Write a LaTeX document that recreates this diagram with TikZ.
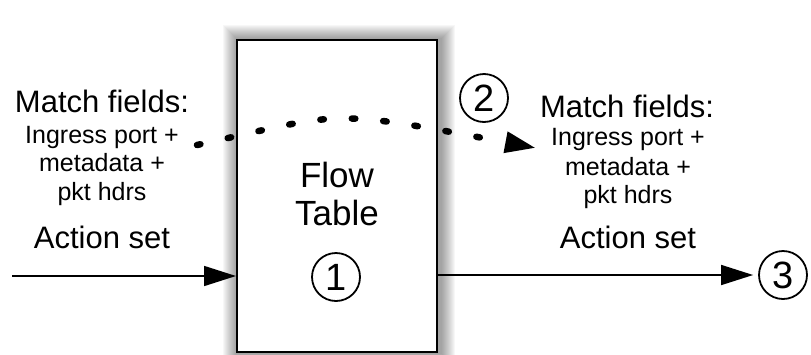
\documentclass[tikz,border=0pt]{standalone}
\usepackage{fontspec}
\setmainfont{Liberation Sans}
\usetikzlibrary{arrows.meta,calc,backgrounds}
\begin{document}
\begin{tikzpicture}[x=1pt,y=-1pt,
  big/.style={font=\fontsize{31}{36}\selectfont, inner sep=0pt, anchor=base},
  small/.style={font=\fontsize{25}{29}\selectfont, inner sep=0pt, anchor=base},
  flowbox/.style={draw, line width=2pt, fill=white, minimum width=200pt, minimum height=312pt, inner sep=0pt},
  boxtext/.style={font=\fontsize{35}{38}\selectfont, inner sep=0pt, anchor=base},
  num/.style={draw, circle, line width=1.8pt, minimum size=48pt, inner sep=0pt, font=\fontsize{38}{38}\selectfont},
  flow/.style={line width=1.6pt, -{Triangle[length=32pt,width=20pt]}},
  dots/.style={line width=6.5pt, line cap=round, dash pattern=on 3.5pt off 28pt, -{Triangle[length=31pt,width=20pt]}}
]
\useasboundingbox (0,0) rectangle (811,354);

% flow table box
\node[flowbox] (box) at (337,196) {};
\begin{scope}[on background layer]
  \foreach \i in {14,...,1} {
    \fill[black, opacity=0.03] ($(box.north west)+(-\i+1,-\i)$) rectangle ($(box.south east)+(\i+3,\i)$);
  }
\end{scope}
\node[boxtext] (ftA) at (337,187) {Flow};
\node[boxtext] (ftB) at (337,225) {Table};
\node[num] (c1) at (336,277) {1};

% left labels
\node[big] (lmf) at (102,112) {Match fields:};
\node[small] (l1) at (102,143) {Ingress port +};
\node[small] (l2) at (102,171) {metadata +};
\node[small] (l3) at (102,200) {pkt hdrs};
\node[big] (las) at (102,248) {Action set};

% right labels
\node[big] (rmf) at (627,117) {Match fields:};
\node[small] (r1) at (628,145) {Ingress port +};
\node[small] (r2) at (628,175) {metadata +};
\node[small] (r3) at (628,203) {pkt hdrs};
\node[big] (ras) at (628,248) {Action set};

% circled numbers
\node[num] (c2) at (484,98) {2};
\node[num] (c3) at (783,275) {3};

% arrows
\coordinate (inL) at (12,276);
\draw[flow] (inL) -- (inL -| box.west);
\draw[flow, shorten >=5pt] (box.east |- c3.west) -- (c3.west);

% dotted curve
\coordinate (dotS) at (197,145);
\coordinate (dotE) at (536,148);
\draw[dots] (dotS) .. controls (346,112) and (324,108) .. (dotE);
\end{tikzpicture}
\end{document}
